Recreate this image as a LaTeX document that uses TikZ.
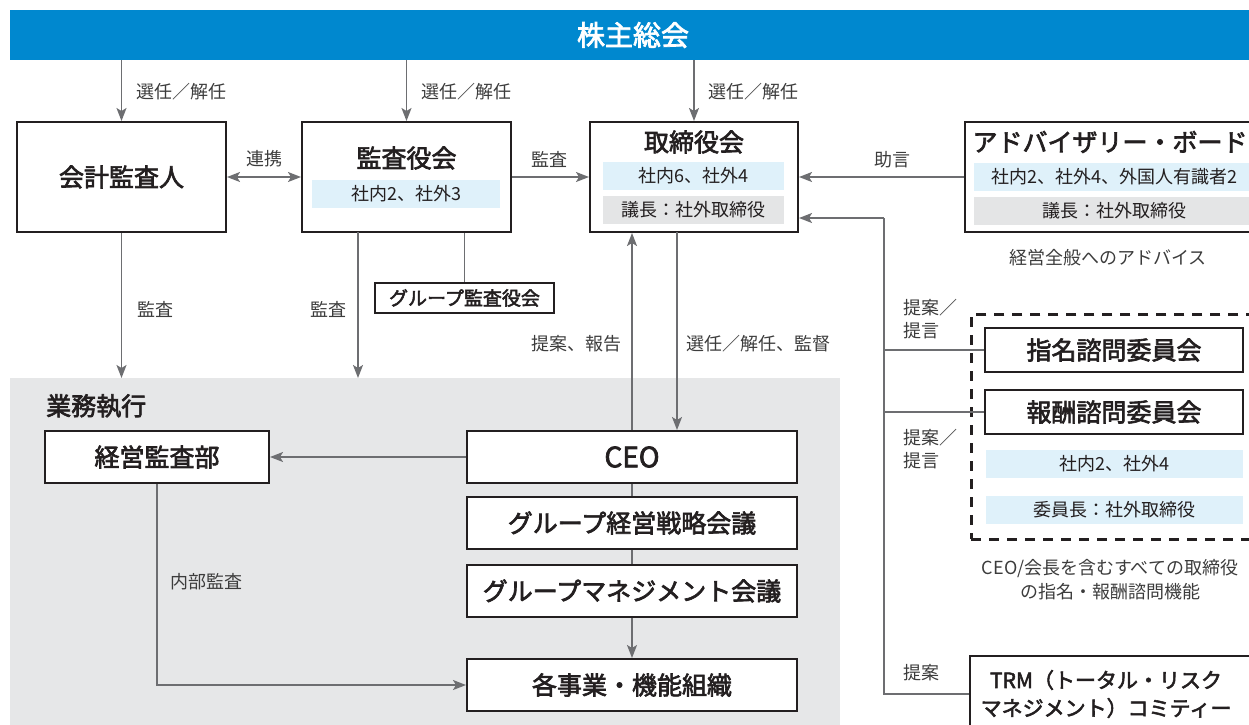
\documentclass[tikz,border=0pt]{standalone}
\usepackage{fontspec}
\setmainfont{Noto Sans CJK JP}
\newfontfamily\medfont{Noto Sans CJK JP}[FakeBold=2.6]
\usetikzlibrary{arrows.meta,calc}
\definecolor{barblue}{HTML}{0088CF}
\definecolor{bandblue}{HTML}{DFF1FA}
\definecolor{bandgray}{HTML}{E4E5E6}
\definecolor{regiongray}{HTML}{E6E7E8}
\definecolor{linegray}{HTML}{6D6E71}
\definecolor{boxline}{HTML}{231F20}
\definecolor{txt}{HTML}{231F20}
\definecolor{lblc}{HTML}{3C3C3C}
\tikzset{
  box/.style={draw=boxline, line width=2pt, fill=white, inner sep=0pt},
  band/.style={inner sep=0pt, minimum height=28pt, font=\fontsize{18}{20}\selectfont, text=txt},
  ttl/.style={inner sep=0pt, font=\medfont\fontsize{25}{28}\selectfont, text=txt},
  lbl/.style={inner sep=0pt, font=\fontsize{18}{23}\selectfont, text=lblc},
  conn/.style={draw=linegray, line width=1.6pt},
  arr/.style={conn, -{Stealth[length=13pt,width=10pt,inset=3pt]}},
  dbl/.style={conn, {Stealth[length=13pt,width=10pt,inset=3pt]}-{Stealth[length=13pt,width=10pt,inset=3pt]}},
}
\begin{document}
\begin{tikzpicture}[x=1pt,y=-1pt]
\useasboundingbox (0,0) rectangle (1249,724);
% top bar
\node[fill=barblue, minimum width=1246pt, minimum height=50pt, inner sep=0pt, text=white,
      font=\medfont\fontsize{28}{30}\selectfont] (bar) at (633,35) {株主総会};
% execution region
\node[fill=regiongray, minimum width=830pt, minimum height=352pt, inner sep=0pt, anchor=north west] (exec) at (10,378) {};
\node[ttl, anchor=west] (execT) at (46,406) {業務執行};
% top row boxes
\node[box, ttl, minimum width=209pt, minimum height=110pt] (auditor) at (121.5,177) {会計監査人};
\node[box, minimum width=209pt, minimum height=110pt] (kansa) at (406.5,177) {};
\node[ttl] (kansaT) at (406.5,158) {監査役会};
\node[band, fill=bandblue, minimum width=188pt] (kansaB) at (406,194) {社内2、社外3};
\node[box, minimum width=208pt, minimum height=110pt] (board) at (694,177) {};
\node[ttl] (boardT) at (694,142) {取締役会};
\node[band, fill=bandblue, minimum width=181pt] (boardB1) at (693.5,176) {社内6、社外4};
\node[band, fill=bandgray, minimum width=181pt] (boardB2) at (693.5,210) {議長：社外取締役};
\node[box, minimum width=290pt, minimum height=110pt] (adv) at (1110,177) {};
\node[ttl] (advT) at (1110,142) {アドバイザリー・ボード};
\node[band, fill=bandblue, minimum width=281pt] (advB1) at (1114.5,177) {社内2、社外4、外国人有識者2};
\node[band, fill=bandgray, minimum width=281pt] (advB2) at (1114.5,211) {議長：社外取締役};
\node[lbl] (advNote) at (1108,258) {経営全般へのアドバイス};
% group audit board
\node[box, minimum width=179pt, minimum height=30pt, font=\medfont\fontsize{19}{22}\selectfont, text=txt] (gaudit) at (464.5,298) {グループ監査役会};
% committees
\node[draw=boxline, dash pattern=on 10pt off 8pt, line width=2.5pt, minimum width=300pt, minimum height=225pt, inner sep=0pt, anchor=north west] (dashbox) at (970,313) {};
\node[box, ttl, minimum width=258pt, minimum height=44pt] (nom) at (1114,350) {指名諮問委員会};
\node[box, ttl, minimum width=258pt, minimum height=44pt] (rem) at (1114,412) {報酬諮問委員会};
\node[band, fill=bandblue, minimum width=257pt] (comB1) at (1114.5,464) {社内2、社外4};
\node[band, fill=bandblue, minimum width=257pt] (comB2) at (1114.5,510) {委員長：社外取締役};
\node[lbl, align=center, font=\fontsize{18}{24}\selectfont] (comNote) at (1110,580) {CEO/会長を含むすべての取締役\\の指名・報酬諮問機能};
\node[box, minimum width=300pt, minimum height=76pt] (trm) at (1120,694) {};
\node[ttl, align=center, font=\medfont\fontsize{21}{28}\selectfont] (trmT) at (1106,694) {TRM（トータル・リスク\\マネジメント）コミティー};
% execution boxes
\node[box, ttl, minimum width=224pt, minimum height=52pt] (kaudit) at (157,457) {経営監査部};
\node[box, ttl, font=\medfont\fontsize{28}{30}\selectfont, minimum width=330pt, minimum height=52pt] (ceo) at (632,457) {CEO};
\node[box, ttl, minimum width=330pt, minimum height=52pt] (strat) at (632,523) {グループ経営戦略会議};
\node[box, ttl, minimum width=330pt, minimum height=52pt] (mgmt) at (632,591) {グループマネジメント会議};
\node[box, ttl, minimum width=330pt, minimum height=52pt] (biz) at (632,685) {各事業・機能組織};
% connectors from shareholders
\draw[arr] (bar.south -| auditor.north) -- (auditor.north);
\draw[arr] (bar.south -| kansa.north) -- (kansa.north);
\draw[arr] (bar.south -| board.north) -- (board.north);
\node[lbl, anchor=west] (l1) at (136,92) {選任／解任};
\node[lbl, anchor=west] (l2) at (421,92) {選任／解任};
\node[lbl, anchor=west] (l3) at (708,92) {選任／解任};
% horizontal connectors top row
\draw[dbl] (auditor.east) -- (kansa.west);
\node[lbl] (l4) at (264,159) {連携};
\draw[arr] (kansa.east) -- (board.west);
\node[lbl] (l5) at (549,159) {監査};
\draw[arr] (adv.west) -- (board.east);
\node[lbl] (l6) at (892,160) {助言};
% audits downward
\draw[arr] (auditor.south) -- (auditor.south |- exec.north);
\node[lbl, anchor=west] (l7) at (137,309) {監査};
\coordinate (k1) at (358,232);
\draw[arr] (k1) -- (k1 |- exec.north);
\node[lbl, anchor=west] (l8) at (310,309) {監査};
\draw[conn] (kansa.south -| gaudit.north) -- (gaudit.north);
% board <-> CEO
\draw[arr] (ceo.north) -- (ceo.north |- board.south);
\node[lbl, anchor=east] (l9) at (622,344) {提案、報告};
\coordinate (d1) at (677,232);
\draw[arr] (d1) -- (d1 |- ceo.north);
\node[lbl, anchor=west] (l10) at (686,344) {選任／解任、監督};
% execution chain
\draw[arr] (ceo.west) -- (kaudit.east);
\draw[conn] (ceo.south) -- (strat.north);
\draw[conn] (strat.south) -- (mgmt.north);
\draw[arr] (mgmt.south) -- (biz.north);
\draw[arr] (kaudit.south) -- (kaudit.south |- biz.west) -- (biz.west);
\node[lbl, anchor=west] (l11) at (170,582) {内部監査};
% right side feedback lines
\coordinate (r1) at (884,218);
\coordinate (r2) at (884,694);
\draw[arr] (r1) -- (r1 -| board.east);
\draw[conn] (r1) -- (r2) -- (r2 -| trm.west);
\draw[conn] (nom.west -| r1) -- (nom.west);
\draw[conn] (rem.west -| r1) -- (rem.west);
\node[lbl, align=left, anchor=west] (l12) at (903,319) {提案／\\提言};
\node[lbl, align=left, anchor=west] (l13) at (903,449) {提案／\\提言};
\node[lbl, anchor=west] (l14) at (903,673) {提案};
\end{tikzpicture}
\end{document}
